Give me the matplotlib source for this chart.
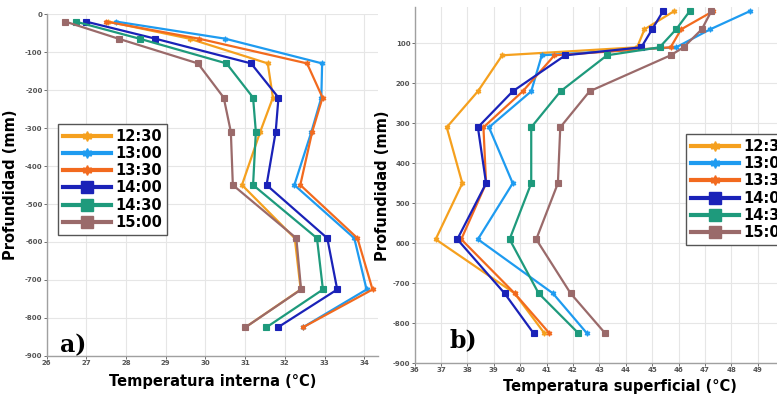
import matplotlib.pyplot as plt
from matplotlib.lines import Line2D

horas = ["12:30", "13:00", "13:30", "14:00", "14:30", "15:00"]
colores = ["#F5A01E", "#1E9BF0", "#F26A1E", "#1A22B8", "#1E9A7C", "#9A6A6A"]
marcas = [(6, 1, 0), (6, 1, 0), (6, 1, 0), "s", "s", "s"]

# a) temperatura interna
prof_a = [-20, -65, -130, -220, -310, -450, -590, -725, -825]
t_int = {
    "12:30": [27.55, 29.6, 31.57, 31.70, 31.38, 30.92, 32.25, 32.40, 31.00],
    "13:00": [27.75, 30.50, 32.94, 32.92, 32.67, 32.24, 33.75, 34.06, 32.45],
    "13:30": [27.50, 29.84, 32.56, 32.95, 32.69, 32.39, 33.83, 34.21, 32.45],
    "14:00": [26.99, 28.74, 31.15, 31.84, 31.77, 31.54, 33.07, 33.32, 31.82],
    "14:30": [26.73, 28.34, 30.53, 31.20, 31.27, 31.20, 32.81, 32.96, 31.53],
    "15:00": [26.47, 27.81, 29.81, 30.46, 30.64, 30.69, 32.29, 32.41, 31.00],
}

# b) temperatura superficial
prof_b = [-20, -65, -110, -130, -220, -310, -450, -590, -725, -825]
t_sup = {
    "12:30": [45.82, 44.71, 44.43, 39.32, 38.40, 37.22, 37.81, 36.80, 39.79, 40.92],
    "13:00": [48.69, 47.20, 45.91, 40.82, 40.42, 38.82, 39.72, 38.40, 41.24, 42.53],
    "13:30": [47.30, 46.10, 45.70, 41.30, 40.10, 38.61, 38.71, 37.77, 39.79, 41.11],
    "14:00": [45.41, 45.00, 44.59, 41.71, 39.72, 38.40, 38.71, 37.62, 39.41, 40.51],
    "14:30": [46.42, 45.91, 45.28, 43.29, 41.53, 40.42, 40.42, 39.60, 40.70, 42.21],
    "15:00": [47.24, 46.88, 46.19, 45.70, 42.63, 41.52, 41.43, 40.61, 41.91, 43.22],
}

yt_a = [0, -100, -200, -300, -400, -500, -600, -700, -800, -900]
yl_a = ["0", "-100", "-200", "-300", "-400", "-500", "-600", "-700", "-800", "-900"]
yt_b = [-100, -200, -300, -400, -500, -600, -700, -800, -900]
yl_b = ["100", "200", "300", "400", "500", "600", "-700", "-800", "-900"]

fig = plt.figure(figsize=(7.77, 3.97), dpi=100)
ax1 = fig.add_axes([0.0601, 0.1033, 0.4265, 0.8614])
ax2 = fig.add_axes([0.5335, 0.0849, 0.4757, 0.8967])


def dibujar(ax, prof, datos, xt, xlim, ylim, yt, yl):
    for h, c, m in zip(horas, colores, marcas):
        ms = 4.5 if m == "s" else 4
        ax.plot(datos[h], prof, color=c, lw=1.6, marker=m, ms=ms,
                markeredgewidth=0.8, zorder=3)
    ax.set_xlim(*xlim)
    ax.set_ylim(*ylim)
    ax.set_xticks(xt)
    ax.set_xticklabels([str(v) for v in xt])
    ax.set_yticks(yt)
    ax.set_yticklabels(yl)
    ax.grid(True, color="#e6e6e6", lw=0.8)
    ax.set_axisbelow(True)
    for s in ["top", "right"]:
        ax.spines[s].set_visible(False)
    for s in ["left", "bottom"]:
        ax.spines[s].set_color("#a0a0a0")
        ax.spines[s].set_linewidth(1.0)
    ax.tick_params(labelsize=5, colors="#555555", length=2, width=0.6, pad=1)
    for t in ax.get_xticklabels() + ax.get_yticklabels():
        t.set_fontweight("bold")


dibujar(ax1, prof_a, t_int, list(range(26, 35)), (26, 34.35), (-900, 0), yt_a, yl_a)
dibujar(ax2, prof_b, t_sup, list(range(36, 50)), (36, 50), (-900, -10), yt_b, yl_b)

ax1.set_xlabel("Temperatura interna (°C)", fontsize=10.5, fontweight="bold", labelpad=6)
ax1.set_ylabel("Profundidad (mm)", fontsize=10.5, fontweight="bold", labelpad=5)
ax2.set_xlabel("Temperatura superficial (°C)", fontsize=10.5, fontweight="bold")
ax2.xaxis.set_label_coords(0.557, -0.045)
ax2.set_ylabel("Profundidad (mm)", fontsize=10.5, fontweight="bold", labelpad=2)

ax1.text(0.04, 0.01, "a)", transform=ax1.transAxes, fontsize=17,
         fontweight="bold", family="DejaVu Serif")
ax2.text(0.095, 0.045, "b)", transform=ax2.transAxes, fontsize=17,
         fontweight="bold", family="DejaVu Serif")

handles = []
for h, c, m in zip(horas, colores, marcas):
    ms = 9 if m == "s" else 7
    handles.append(Line2D([], [], color=c, lw=3, marker=m, ms=ms, label=h))

for ax, loc in [(ax1, (0.033, 0.354)), (ax2, (0.735, 0.332))]:
    leg = ax.legend(handles=handles, loc="lower left", bbox_to_anchor=loc,
                    prop={"size": 10.5, "weight": "bold"}, handlelength=3.3,
                    labelspacing=0.15, handletextpad=0.3, borderpad=0.35,
                    borderaxespad=0, fancybox=False, framealpha=1)
    leg.get_frame().set_edgecolor("#555555")
    leg.get_frame().set_linewidth(1.0)

fig.savefig("out.png", dpi=100)
